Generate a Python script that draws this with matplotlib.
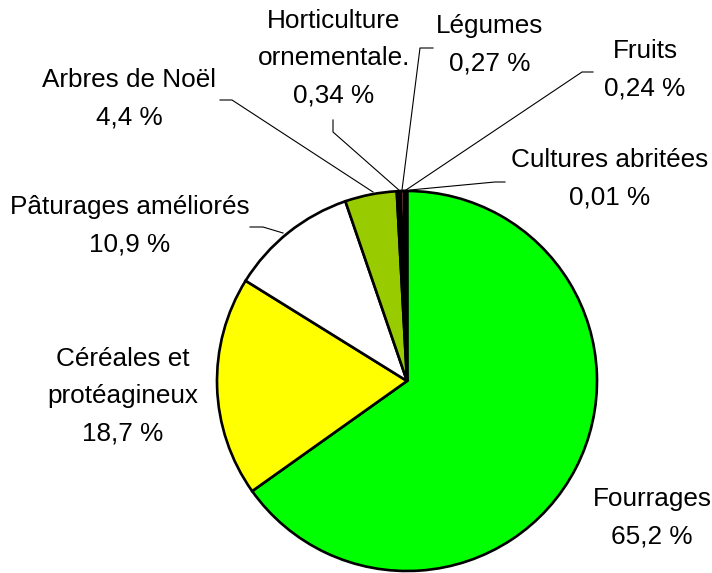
import matplotlib
matplotlib.use("Agg")
import matplotlib.pyplot as plt

categories = ["Fourrages", "Céréales et\nprotéagineux", "Pâturages améliorés", "Arbres de Noël",
              "Horticulture\nornementale.", "Légumes", "Fruits", "Cultures abritées"]
values = [65.2, 18.7, 10.9, 4.4, 0.34, 0.27, 0.24, 0.01]
value_labels = ["65,2 %", "18,7 %", "10,9 %", "4,4 %", "0,34 %", "0,27 %", "0,24 %", "0,01 %"]
colors = ["#00ff00", "#ffff00", "#ffffff", "#99cc00", "#000000", "#ff8080", "#000000", "#000000"]

W, H = 712, 573
fig = plt.figure(figsize=(W / 100, H / 100), dpi=100)
ax = fig.add_axes([0, 0, 1, 1])

def Y(y):
    return H - y

cx, cy, r = 407, 381, 190
ax.pie(values, colors=colors, startangle=90, counterclock=False,
       center=(cx, Y(cy)), radius=r, frame=True,
       wedgeprops=dict(edgecolor="black", linewidth=1.9))
ax.set_xlim(0, W)
ax.set_ylim(0, H)
ax.set_aspect("equal")
ax.axis("off")

# label positions (pixel coordinates, y down)
label_pos = {
    "Fourrages": (652, 518),
    "Céréales et\nprotéagineux": (123, 396),
    "Pâturages améliorés": (130, 226),
    "Arbres de Noël": (129, 99),
    "Horticulture\nornementale.": (334, 58),
    "Légumes": (490, 45),
    "Fruits": (645, 70),
    "Cultures abritées": (610, 179),
}
font = dict(family="Liberation Sans", fontsize=18.8, color="black")
for cat, val in zip(categories, value_labels):
    x, y = label_pos[cat]
    ax.text(x, Y(y), cat + "\n" + val, ha="center", va="center",
            linespacing=1.7, **font)

# leader lines
leaders = [
    [(220, 100), (232, 100), (373, 192)],
    [(333, 120), (333, 132), (400, 191)],
    [(433, 48), (420, 48), (402, 190)],
    [(593, 72), (582, 72), (406, 190)],
    [(505, 182), (495, 182), (410, 190)],
    [(250, 227), (263, 227), (283, 233)],
]
for pts in leaders:
    xs = [p[0] for p in pts]
    ys = [Y(p[1]) for p in pts]
    ax.plot(xs, ys, color="black", linewidth=0.8)

fig.savefig("out.png", dpi=100, facecolor="white")
